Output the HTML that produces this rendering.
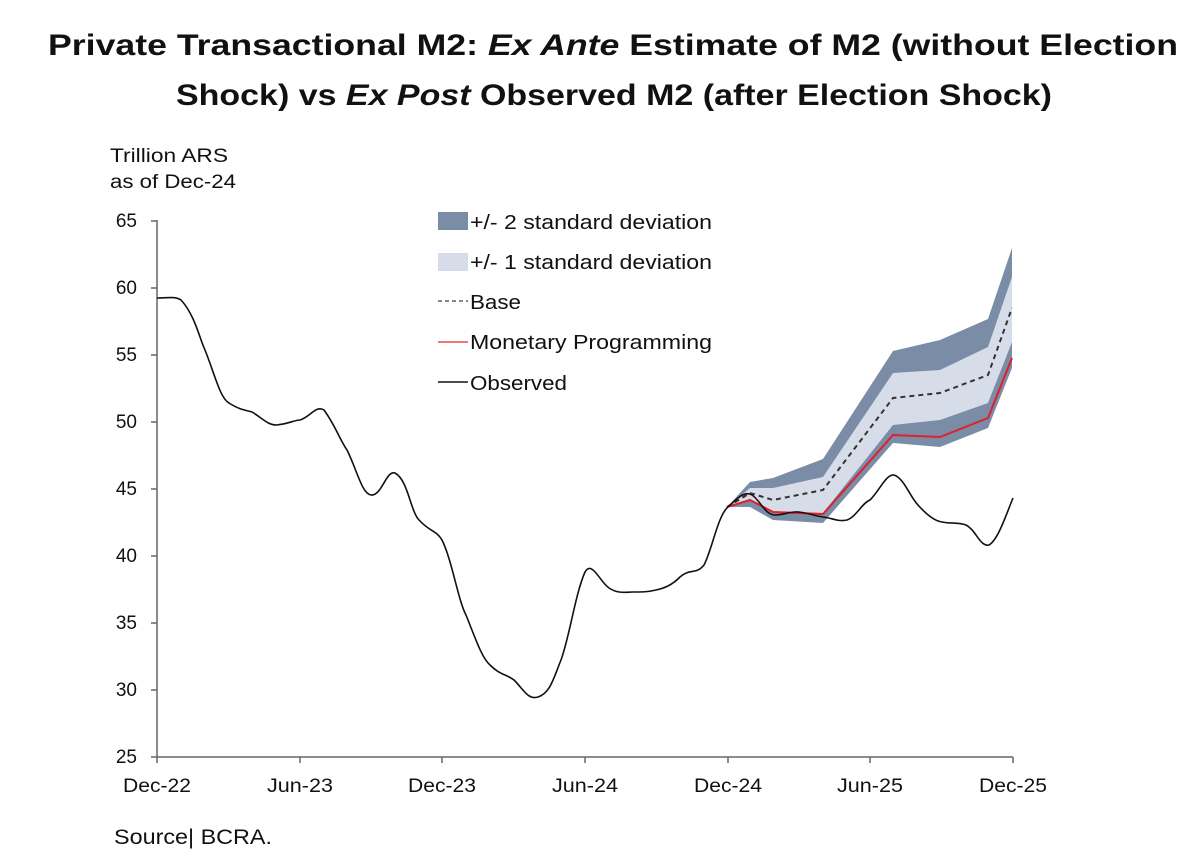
<!DOCTYPE html>
<html><head><meta charset="utf-8"><style>body{margin:0;background:#fff}svg{display:block}</style></head>
<body>
<svg width="1200" height="857" xmlns="http://www.w3.org/2000/svg" font-family="Liberation Sans, sans-serif">
<g font-weight="bold" font-size="30" fill="#111" text-anchor="middle">
<text x="613" y="55" textLength="1130" lengthAdjust="spacingAndGlyphs">Private Transactional M2: <tspan font-style="italic">Ex Ante</tspan> Estimate of M2 (without  Election</text>
<text x="614" y="105" textLength="876" lengthAdjust="spacingAndGlyphs">Shock) vs <tspan font-style="italic">Ex Post</tspan> Observed M2 (after Election Shock)</text>
</g>
<g font-size="19" fill="#111">
<text x="110" y="162" textLength="118" lengthAdjust="spacingAndGlyphs">Trillion ARS</text>
<text x="110" y="188" textLength="126" lengthAdjust="spacingAndGlyphs">as of Dec-24</text>
<text x="114" y="844" font-size="21" textLength="158" lengthAdjust="spacingAndGlyphs">Source| BCRA.</text>
</g>
<g font-size="19" fill="#111" text-anchor="end">
<text x="137" y="227">65</text><text x="137" y="294">60</text><text x="137" y="361">55</text><text x="137" y="428">50</text><text x="137" y="495">45</text><text x="137" y="562">40</text><text x="137" y="629">35</text><text x="137" y="696">30</text><text x="137" y="763">25</text>
</g>
<g font-size="19" fill="#111" text-anchor="middle">
<text x="157" y="792" textLength="68" lengthAdjust="spacingAndGlyphs">Dec-22</text><text x="300" y="792" textLength="66" lengthAdjust="spacingAndGlyphs">Jun-23</text><text x="442" y="792" textLength="68" lengthAdjust="spacingAndGlyphs">Dec-23</text><text x="585" y="792" textLength="66" lengthAdjust="spacingAndGlyphs">Jun-24</text><text x="728" y="792" textLength="68" lengthAdjust="spacingAndGlyphs">Dec-24</text><text x="870" y="792" textLength="66" lengthAdjust="spacingAndGlyphs">Jun-25</text><text x="1013" y="792" textLength="68" lengthAdjust="spacingAndGlyphs">Dec-25</text>
</g>
<g stroke="#666" stroke-width="1.5" fill="none">
<path d="M157 220V757H1013"/>
<path d="M151 221H157M151 288H157M151 355H157M151 422H157M151 489H157M151 556H157M151 623H157M151 690H157M151 757H157"/>
<path d="M157 757V763M300 757V763M442 757V763M585 757V763M728 757V763M870 757V763M1013 757V763"/>
</g>
<polygon fill="#7a8ca6" points="727,507 750,482 773,478 823,459 893,351 940,340 988,319 1012,248 1012,368 988,428 940,447 893,443 823,523 773,520 750,507"/>
<polygon fill="#d7dde8" points="727,507 750,488 773,488 823,477 893,373 940,370 988,347 1012,277 1012,342 988,403 940,420 893,425 823,513 773,512 750,500"/>
<polyline fill="none" stroke="#333" stroke-width="2" stroke-dasharray="5,4" points="727,507 750,493 773,500 823,490 893,398 940,393 988,375 1012,308"/>
<polyline fill="none" stroke="#e0202a" stroke-width="2" points="727,507 750,500 773,512 823,514 893,435 940,437 988,418 1012,358"/>
<path fill="none" stroke="#111" stroke-width="1.6" d="M157,298 C170,298 175,296 181,300 C195,315 200,340 205,350 C215,375 220,398 229,403 C240,410 245,410 252,412 C262,418 268,425 276,425 C288,424 295,420 300,420 C310,417 316,405 324,410 C335,425 340,440 347,450 C357,470 362,494 371,495 C382,496 386,470 395,473 C408,480 410,510 419,520 C430,532 436,530 442,540 C452,560 458,600 466,615 C476,640 482,658 490,665 C500,675 506,674 514,680 C524,690 528,700 538,697 C550,693 553,680 561,660 C570,635 575,595 585,572 C592,560 600,582 609,588 C618,594 626,592 633,592 C642,592 648,592 656,590 C665,588 672,585 680,577 C690,568 696,575 704,565 C712,550 718,515 728,507 C736,500 744,490 752,495 C760,500 765,515 775,515 C785,515 790,511 799,512 C808,513 815,516 823,517 C832,518 838,522 847,520 C856,517 862,503 870,500 C880,490 886,474 894,475 C904,478 910,497 918,505 C926,514 934,521 942,522 C952,524 958,522 966,525 C976,530 980,547 989,545 C998,540 1006,515 1013,498"/>
<g font-size="20" fill="#111">
<rect x="438" y="212" width="30" height="18" fill="#7a8ca6"/><text x="470" y="229" textLength="242" lengthAdjust="spacingAndGlyphs">+/- 2 standard deviation</text>
<rect x="438" y="253" width="30" height="18" fill="#d7dde8"/><text x="470" y="269" textLength="242" lengthAdjust="spacingAndGlyphs">+/- 1 standard deviation</text>
<line x1="438" y1="301" x2="468" y2="301" stroke="#888" stroke-width="2" stroke-dasharray="4,3"/><text x="470" y="309" textLength="51" lengthAdjust="spacingAndGlyphs">Base</text>
<line x1="438" y1="342" x2="468" y2="342" stroke="#e05050" stroke-width="1.5"/><text x="470" y="349" textLength="242" lengthAdjust="spacingAndGlyphs">Monetary Programming</text>
<line x1="438" y1="382" x2="468" y2="382" stroke="#111" stroke-width="1.5"/><text x="470" y="390" textLength="97" lengthAdjust="spacingAndGlyphs">Observed</text>
</g>
</svg>
</body></html>
